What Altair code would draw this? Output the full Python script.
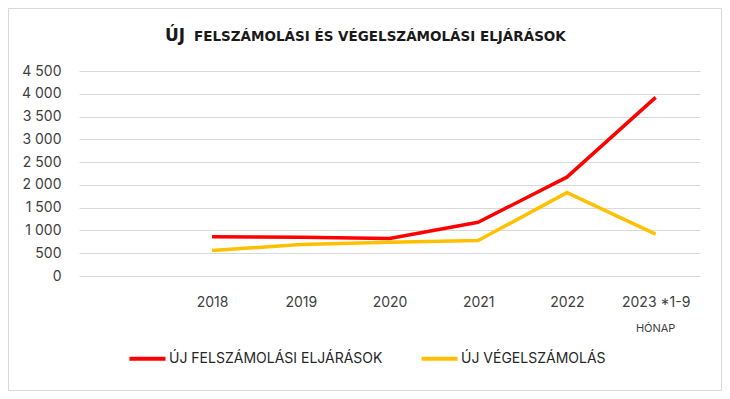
import altair as alt
import pandas as pd

years = ["2018", "2019", "2020", "2021", "2022", "2023 *1-9"]
felszamolasi = [860, 850, 825, 1180, 2170, 3920]
vegelszamolas = [560, 690, 740, 780, 1830, 920]
series_names = ["ÚJ FELSZÁMOLÁSI ELJÁRÁSOK", "ÚJ VÉGELSZÁMOLÁS"]
series_colors = ["#FF0000", "#FFC000"]
y_ticks = [0, 500, 1000, 1500, 2000, 2500, 3000, 3500, 4000, 4500]
x_domain = [""] + years

title_big = "ÚJ"
title_small = "FELSZÁMOLÁSI ÉS VÉGELSZÁMOLÁSI ELJÁRÁSOK"
note_text = "HÓNAP"

FONT = "Inter"
TFONT = "DejaVu Sans"
W, H = 621, 205

rows = []
for y, v in zip(years, felszamolasi):
    rows.append({"ev": y, "ertek": v, "sorozat": series_names[0]})
for y, v in zip(years, vegelszamolas):
    rows.append({"ev": y, "ertek": v, "sorozat": series_names[1]})
df = pd.DataFrame(rows)

xscale = alt.Scale(type="point", domain=x_domain, padding=0.5)

lines = alt.Chart(df).mark_line(strokeWidth=3.5, strokeJoin="round").encode(
    x=alt.X("ev:N", scale=xscale, sort=x_domain,
            axis=alt.Axis(title=None, labelAngle=0, domain=False, ticks=False,
                          labelFontSize=14, labelColor="#404040", labelFont=FONT,
                          labelPadding=19, grid=False)),
    y=alt.Y("ertek:Q", scale=alt.Scale(domain=[0, 4500], nice=False),
            axis=alt.Axis(title=None, values=y_ticks, domain=False, ticks=False,
                          labelFontSize=14, labelColor="#404040", labelFont=FONT,
                          labelPadding=18, gridColor="#D9D9D9", gridWidth=1.2,
                          labelExpr="replace(format(datum.value, ','), ',', ' ')")),
    color=alt.Color("sorozat:N",
                    scale=alt.Scale(domain=series_names, range=series_colors),
                    legend=alt.Legend(title=None, orient="none", direction="horizontal",
                                      legendX=48, legendY=267, symbolType="stroke",
                                      symbolSize=1300, symbolStrokeWidth=4,
                                      labelFontSize=14, labelColor="#262626",
                                      labelFont=FONT, labelOffset=1, columnPadding=30,
                                      labelLimit=0, padding=0)),
)

note = alt.Chart(pd.DataFrame({"ev": [years[-1]], "t": [note_text]})).mark_text(
    fontSize=11, font=FONT, color="#404040", baseline="middle"
).encode(x=alt.X("ev:N", scale=xscale), y=alt.value(H + 53), text="t:N")

tbig = alt.Chart(pd.DataFrame({"t": [title_big]})).mark_text(
    fontSize=17, font=TFONT, fontWeight="bold", color="#1a1a1a", align="left",
    baseline="alphabetic"
).encode(x=alt.value(86), y=alt.value(-30), text="t:N")

tsmall = alt.Chart(pd.DataFrame({"t": [title_small]})).mark_text(
    fontSize=13.5, font=TFONT, fontWeight="bold", color="#1a1a1a", align="left",
    baseline="alphabetic"
).encode(x=alt.value(115), y=alt.value(-30), text="t:N")

border = alt.Chart(pd.DataFrame({"a": [1]})).mark_rect(
    fill=None, stroke="#D9D9D9", strokeWidth=1
).encode(x=alt.value(-70.5), x2=alt.value(642.5), y=alt.value(-62.5), y2=alt.value(319.5))

chart = alt.layer(border, lines, note, tbig, tsmall).properties(
    width=W, height=H,
    autosize=alt.AutoSizeParams(type="none"),
    padding={"left": 71, "top": 63, "right": 22, "bottom": 115},
    background="white",
).configure_view(stroke=None)

chart.save("out.html", embed_options={"renderer": "svg", "actions": False})
